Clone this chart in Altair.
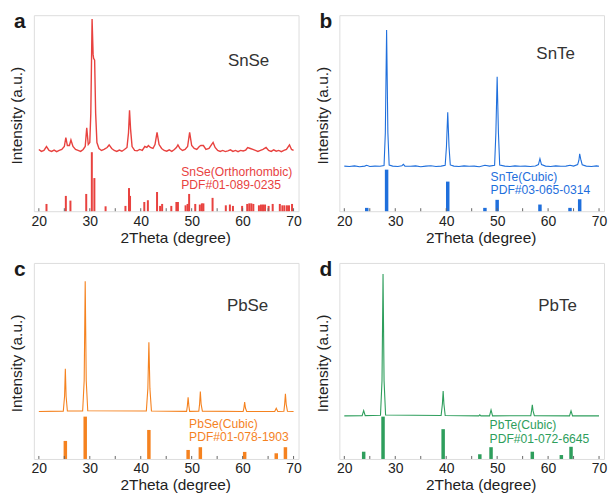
import altair as alt
import pandas as pd

# ---------------- data ----------------
# Panel a: SnSe measured pattern (2theta, relative intensity)
snse_x = [20.0, 20.5, 21.0, 21.5, 22.0, 22.5, 23.0, 23.5, 24.0, 24.5, 25.0, 25.3, 25.6, 26.0, 26.3, 26.7,
          27.2, 27.7, 28.2, 28.7, 29.1, 29.4, 29.7, 30.0, 30.2, 30.45, 30.65, 30.75, 30.95, 31.15, 31.4,
          31.8, 32.3, 32.8, 33.4, 33.8, 34.3, 34.8, 35.3, 35.8, 36.3, 36.8, 37.3, 37.6, 37.8, 38.0, 38.3,
          38.8, 39.3, 39.8, 40.3, 40.8, 41.2, 41.5, 41.9, 42.4, 42.8, 43.2, 43.6, 44.1, 44.6, 45.1, 45.6,
          46.1, 46.6, 47.0, 47.3, 47.7, 48.2, 48.7, 49.2, 49.6, 50.0, 50.5, 51.0, 51.5, 51.8, 52.3, 52.8,
          53.4, 53.9, 54.2, 54.6, 55.1, 55.6, 56.1, 56.6, 57.1, 57.6, 58.1, 58.6, 59.1, 59.6, 60.1, 60.6,
          61.0, 61.5, 62.0, 62.5, 63.0, 63.5, 64.0, 64.6, 65.1, 65.6, 66.1, 66.6, 67.1, 67.6, 68.1, 68.6,
          69.2, 69.6, 70.0]
snse_y = [31.5, 30.5, 31.0, 33.0, 31.0, 30.5, 31.2, 30.4, 31.0, 31.5, 33.0, 37.5, 33.5, 33.5, 36.3, 33.0,
          31.5, 31.0, 30.5, 31.5, 33.0, 42.6, 34.0, 35.0, 50.0, 98.0, 80.0, 78.0, 77.0, 50.0, 35.0,
          32.0, 31.0, 31.5, 32.5, 33.8, 32.0, 31.0, 30.5, 31.2, 30.6, 31.5, 32.5, 40.0, 51.5, 42.0, 33.0,
          31.0, 30.8, 31.5, 31.0, 33.0, 32.5, 33.5, 32.5, 32.0, 34.0, 40.2, 34.0, 32.0, 31.0, 30.6, 31.3,
          30.5, 31.5, 32.5, 33.8, 32.0, 31.0, 31.5, 33.0, 40.2, 33.5, 32.0, 31.5, 33.0, 33.5, 33.5, 31.5,
          32.0, 34.0, 35.1, 32.5, 31.0, 30.5, 31.0, 30.4, 30.8, 31.3, 30.5, 31.0, 30.4, 31.0, 30.7, 31.2,
          32.5, 32.0, 31.5, 31.0, 30.5, 31.0, 31.5, 32.5, 31.0, 30.5, 31.3, 30.6, 31.0, 30.4, 31.0, 31.5,
          33.8, 31.5, 31.0]
# Panel a: SnSe reference card lines
snse_ref_x = [21.5, 25.3, 26.2, 29.3, 30.4, 30.9, 33.1, 37.0, 37.7, 37.9, 40.7, 41.4, 43.2, 43.8, 44.2,
              46.0, 47.0, 47.3, 48.8, 49.2, 49.5, 50.7, 51.6, 52.0, 52.3, 54.1, 56.7, 57.5, 58.1, 59.9,
              60.9, 61.3, 61.7, 62.1, 63.2, 63.6, 64.0, 64.4, 65.1, 65.9, 67.3, 67.8, 68.2, 68.7, 69.1, 69.7]
snse_ref_h = [3.7, 7.8, 5.4, 8.8, 30.1, 16.9, 2.5, 2.7, 11.8, 7.8, 4.7, 5.6, 9.8, 2.7, 3.7,
              2.7, 4.7, 4.7, 3.0, 3.7, 8.8, 3.7, 3.4, 4.0, 4.0, 6.8, 3.0, 3.4, 2.7, 2.7,
              3.7, 4.0, 4.0, 3.7, 3.0, 3.4, 3.4, 3.4, 2.7, 3.7, 3.7, 3.0, 3.0, 3.0, 3.0, 3.7]

# Panel b: SnTe
snte_x = [20, 21, 22, 23, 24, 24.4, 25, 26, 27, 27.8, 28.05, 28.3, 28.55, 28.8, 29.5, 30.5, 31.3, 31.6,
          31.9, 33, 34, 35, 36, 37, 38, 39, 39.8, 40.05, 40.3, 40.55, 40.8, 41.5, 42.5, 43.5, 44.5, 45.5,
          46.5, 47.6, 48.5, 49.5, 49.75, 50.0, 50.25, 50.5, 51.5, 52.5, 53.5, 54.5, 55.5, 56.5, 57.5,
          58.1, 58.4, 58.7, 59.5, 60.5, 61.5, 62.5, 63.5, 64.3, 65, 65.8, 66.05, 66.2, 66.45, 66.7, 67.5,
          68.5, 69.5, 70]
snte_y = [23.0, 22.8, 23.1, 22.7, 23.0, 23.4, 22.8, 23.0, 22.9, 23.3, 40.0, 92.5, 40.0, 23.5, 23.0, 22.8,
          23.2, 23.9, 23.0, 22.9, 23.1, 22.7, 23.0, 23.2, 22.8, 23.0, 23.4, 33.0, 50.5, 33.0, 23.6, 23.0,
          22.8, 23.1, 22.9, 23.0, 22.7, 23.4, 23.0, 23.4, 40.0, 68.6, 40.0, 23.5, 23.0, 22.8, 23.1, 22.9,
          23.0, 22.8, 23.1, 23.8, 26.8, 23.8, 23.0, 22.8, 23.1, 22.9, 23.0, 23.4, 23.0, 23.8, 26.0, 29.3,
          26.0, 23.7, 23.0, 22.8, 23.1, 22.9]
snte_ref_x = [24.4, 28.3, 40.3, 47.6, 50.0, 58.4, 64.3, 66.2]
snte_ref_h = [1.7, 21.2, 15.1, 1.7, 5.8, 3.4, 1.7, 6.1]

# Panel c: PbSe
pbse_x = [20, 24.8, 25.05, 25.2, 25.35, 25.6, 28.6, 28.9, 29.1, 29.3, 29.6, 41.1, 41.4, 41.6, 41.8, 42.1,
          49.0, 49.15, 49.3, 49.45, 49.6, 51.4, 51.55, 51.7, 51.85, 52.1, 60.1, 60.25, 60.4, 60.55, 60.8,
          66.3, 66.6, 66.9, 68.1, 68.25, 68.4, 68.55, 68.8, 70]
pbse_y = [24.2, 24.4, 32.0, 46.0, 32.0, 24.5, 24.5, 40.0, 90.6, 40.0, 24.6, 24.5, 36.0, 59.5, 36.0, 24.5,
          24.3, 27.0, 31.5, 27.0, 24.3, 24.4, 28.0, 34.4, 28.0, 24.4, 24.2, 26.0, 29.0, 26.0, 24.2,
          24.2, 25.9, 24.2, 24.3, 28.0, 33.2, 28.0, 24.3, 24.2]
pbse_ref_x = [25.2, 29.1, 41.6, 49.3, 51.7, 60.4, 66.6, 68.4]
pbse_ref_h = [9.2, 21.6, 14.8, 4.6, 6.0, 3.6, 2.9, 6.0]

# Panel d: PbTe
pbte_x = [20, 23.5, 23.8, 24.1, 27.1, 27.4, 27.6, 27.8, 28.1, 39.0, 39.25, 39.4, 39.55, 39.8, 46.4, 46.6,
          46.8, 48.5, 48.8, 49.1, 56.6, 56.75, 56.9, 57.05, 57.3, 64.2, 64.5, 64.8, 70]
pbte_y = [22.0, 22.1, 24.7, 22.1, 22.3, 40.0, 94.4, 40.0, 22.4, 22.2, 28.0, 34.6, 28.0, 22.2, 22.0, 22.5,
          22.0, 22.0, 25.0, 22.0, 22.1, 24.5, 27.6, 24.5, 22.1, 22.0, 24.5, 22.0, 22.0]
pbte_ref_x = [23.8, 27.6, 39.4, 46.6, 48.8, 56.9, 62.6, 64.5]
pbte_ref_h = [3.7, 21.6, 15.2, 2.4, 6.0, 3.7, 2.0, 6.2]

tick_x = [20, 25, 30, 35, 40, 45, 50, 55, 60, 65, 70]
label_x = [20, 30, 40, 50, 60, 70]

# ---------------- chart ----------------
W, H = 266, 197
FONT = "Liberation Sans"
FRAME = "#666666"


def panel(letter, name, px, py, rx, rh, color, ref1, ref2, bar_w, name_xy, ref_xy, ref_dy, lw):
    xs = alt.Scale(domain=[20, 70], nice=False, zero=False)
    ys = alt.Scale(domain=[0, 100], nice=False)
    xaxis = alt.Axis(values=label_x, title="2Theta (degree)", ticks=False, domain=False, grid=False,
                     labelPadding=3, labelFontSize=14, titleFontSize=15.5, titlePadding=2,
                     titleX=W / 2 + 9, titleAlign="center",
                     labelColor="#222222", titleColor="#222222", titleFontWeight="normal",
                     labelFont=FONT, titleFont=FONT)
    yaxis = alt.Axis(title="Intensity (a.u.)", labels=False, ticks=False, domain=False, grid=False,
                     titleFontSize=15.5, titlePadding=9, titleY=H / 2 + 2, titleAlign="center",
                     titleColor="#222222", titleFontWeight="normal", titleFont=FONT)
    X = alt.X("x:Q", scale=xs, axis=xaxis)
    line = alt.Chart(pd.DataFrame({"x": px, "y": py})).mark_line(
        color=color, strokeWidth=lw).encode(x=X, y=alt.Y("y:Q", scale=ys, axis=yaxis))
    bars = alt.Chart(pd.DataFrame({"x": rx, "y": rh})).mark_bar(
        color=color, size=bar_w).encode(x=X, y=alt.Y("y:Q", scale=ys, axis=yaxis))
    ticks = alt.Chart(pd.DataFrame({"x": tick_x})).mark_rule(
        color=FRAME, strokeWidth=1).encode(x=X, y=alt.value(H), y2=alt.value(H - 3))

    def txt(t, x, y, size, col, weight="normal"):
        return alt.Chart(pd.DataFrame({"t": [t]})).mark_text(
            align="left", baseline="alphabetic", fontSize=size, color=col, font=FONT,
            fontWeight=weight).encode(text="t:N", x=alt.value(x), y=alt.value(y))

    layers = [line, bars, ticks,
              txt(letter, -20, 13, 21, "#1a1a1a", "bold"),
              txt(name, name_xy[0], name_xy[1], 17, "#333333"),
              txt(ref1, ref_xy[0], ref_xy[1], 12.2, color),
              txt(ref2, ref_xy[0], ref_xy[1] + ref_dy, 12.2, color)]
    return alt.layer(*layers).properties(width=W, height=H)


RED, BLUE, ORANGE, GREEN = "#e8423f", "#1f6fdc", "#f5821f", "#2e9e5c"

a = panel("a", "SnSe", snse_x, snse_y, snse_ref_x, snse_ref_h, RED,
          "SnSe(Orthorhombic)", "PDF#01-089-0235", 2, (195, 51), (148, 162), 12.8, 1.4)
b = panel("b", "SnTe", snte_x, snte_y, snte_ref_x, snte_ref_h, BLUE,
          "SnTe(Cubic)", "PDF#03-065-0314", 3.5, (198, 44), (152, 167), 13, 1.1)
c = panel("c", "PbSe", pbse_x, pbse_y, pbse_ref_x, pbse_ref_h, ORANGE,
          "PbSe(Cubic)", "PDF#01-078-1903", 3.5, (194, 48), (156, 166), 12.8, 1.1)
d = panel("d", "PbTe", pbte_x, pbte_y, pbte_ref_x, pbte_ref_h, GREEN,
          "PbTe(Cubic)", "PDF#01-072-6645", 3.5, (200, 48), (151, 167), 13.5, 1.1)

chart = alt.concat(
    a, b, c, d, columns=2, spacing={"row": 52, "column": 41}, bounds="flush"
).properties(
    padding={"left": 1, "top": 1, "right": 0, "bottom": 0}, background="white"
).configure_view(
    stroke=FRAME, strokeWidth=1
).configure(font=FONT)

chart.save("out.html", embed_options={"renderer": "svg", "actions": False})
